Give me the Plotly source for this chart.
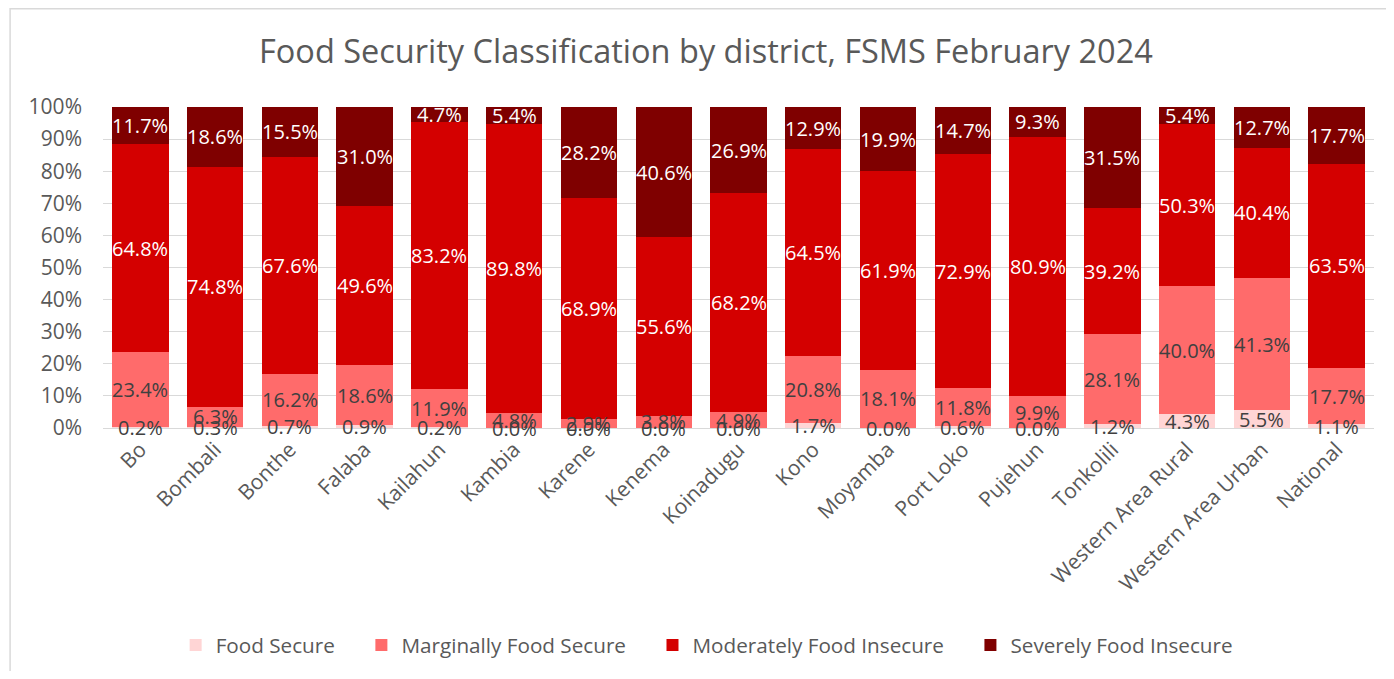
import plotly.graph_objects as go

districts = ["Bo", "Bombali", "Bonthe", "Falaba", "Kailahun", "Kambia", "Karene",
             "Kenema", "Koinadugu", "Kono", "Moyamba", "Port Loko", "Pujehun",
             "Tonkolili", "Western Area Rural", "Western Area Urban", "National"]

food_secure = [0.2, 0.3, 0.7, 0.9, 0.2, 0.0, 0.0, 0.0, 0.0, 1.7, 0.0, 0.6, 0.0, 1.2, 4.3, 5.5, 1.1]
marginal = [23.4, 6.3, 16.2, 18.6, 11.9, 4.8, 2.9, 3.8, 4.9, 20.8, 18.1, 11.8, 9.9, 28.1, 40.0, 41.3, 17.7]
moderate = [64.8, 74.8, 67.6, 49.6, 83.2, 89.8, 68.9, 55.6, 68.2, 64.5, 61.9, 72.9, 80.9, 39.2, 50.3, 40.4, 63.5]
severe = [11.7, 18.6, 15.5, 31.0, 4.7, 5.4, 28.2, 40.6, 26.9, 12.9, 19.9, 14.7, 9.3, 31.5, 5.4, 12.7, 17.7]

series = [
    ("Food Secure", food_secure, "#FFD5D5", "#404040"),
    ("Marginally Food Secure", marginal, "#FF6B6B", "#404040"),
    ("Moderately Food Insecure", moderate, "#D40000", "white"),
    ("Severely Food Insecure", severe, "#7F0000", "white"),
]

font = "Open Sans"
gray = "#595959"
pad = "\u00a0" * 4  # extra room between legend entries

fig = go.Figure()
base = [0.0] * len(districts)
labels = []
for k, (name, vals, col, tcol) in enumerate(series):
    legend_name = name + (pad if k < len(series) - 1 else "")
    fig.add_trace(go.Bar(
        x=districts, y=[v / 100 for v in vals], name=legend_name,
        marker=dict(color=col, line=dict(width=0)),
        hovertemplate="%{x}: %{y:.1%}<extra>" + name + "</extra>",
    ))
    # data labels centred in each segment, like Excel
    for i, v in enumerate(vals):
        labels.append(dict(x=districts[i], y=(base[i] + v / 2) / 100,
                           text=f"{v:.1f}%", showarrow=False, xref="x", yref="y",
                           font=dict(color=tcol, size=20, family=font)))
        base[i] += v

fig.update_layout(
    barmode="stack", bargap=0.245,
    width=1378, height=663,
    paper_bgcolor="white", plot_bgcolor="white",
    margin=dict(l=95, r=11.5, t=99, b=243, autoexpand=False),
    font=dict(family=font, color=gray, size=21),
    title=dict(text="Food Security Classification by district, FSMS February 2024",
               xref="container", x=0.5065, xanchor="center", y=1 - 44 / 663, yanchor="middle",
               font=dict(size=32.5, color=gray, family=font)),
    legend=dict(orientation="h", xref="container", x=0.507, xanchor="center",
                yref="container", y=1 - 637 / 663, yanchor="middle",
                font=dict(size=20.7, color=gray), traceorder="normal"),
    annotations=labels,
)
fig.update_yaxes(range=[0, 1], tickformat=".0%", dtick=0.1, showgrid=True,
                 gridcolor="#D9D9D9", gridwidth=1, zeroline=False, showline=False,
                 ticks="", ticklabelstandoff=20, automargin=False,
                 tickfont=dict(size=21, color=gray))
fig.update_xaxes(tickangle=-45, showline=True, linecolor="#D9D9D9", ticks="",
                 automargin=False, tickfont=dict(size=21, color=gray))

fig.add_shape(type="rect", xref="paper", yref="paper",
              x0=-0.0731, x1=1.05, y0=-0.85, y1=1.306,
              line=dict(color="#D9D9D9", width=1.5), fillcolor="rgba(0,0,0,0)", layer="below")

fig.write_html("out.html")
